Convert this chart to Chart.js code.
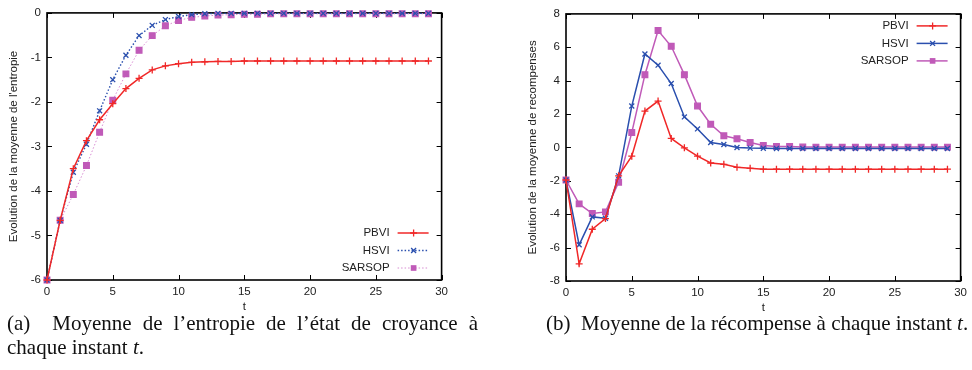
<!DOCTYPE html>
<html>
<head>
<meta charset="utf-8">
<script src="https://cdn.jsdelivr.net/npm/chart.js@4.4.1/dist/chart.umd.min.js"></script>
<style>
  body { margin: 0; width: 972px; height: 370px; background: #fff; position: relative; overflow: hidden; }
  .box { position: absolute; width: 453px; height: 320px; }
  .cap { position: absolute; font-family: "Liberation Serif", "DejaVu Serif", serif; font-size: 21px; line-height: 24px; color: #111; white-space: nowrap; }
  .just { text-align: justify; text-align-last: justify; }
</style>
</head>
<body>
<div class="box" style="left:0; top:0;"><canvas id="entropyChart"></canvas></div>
<div class="box" style="left:519px; top:1px;"><canvas id="rewardChart"></canvas></div>

<div class="cap just" style="left:7px; top:311px; width:471px;">(a)&nbsp; Moyenne de l’entropie de l’état de croyance à</div>
<div class="cap" style="left:7px; top:335px;">chaque instant <i>t</i>.</div>
<div class="cap" style="left:546px; top:311px;">(b)&nbsp; Moyenne de la récompense à chaque instant <i>t</i>.</div>

<script>
// time steps
const steps = [0, 1, 2, 3, 4, 5, 6, 7, 8, 9, 10, 11, 12, 13, 14, 15, 16, 17, 18, 19, 20, 21, 22, 23, 24, 25, 26, 27, 28, 29];
const seriesNames = ['PBVI', 'HSVI', 'SARSOP'];

// (a) mean belief entropy
const entropyPBVI = [-6.00, -4.66, -3.50, -2.87, -2.40, -2.04, -1.70, -1.47, -1.28, -1.19, -1.14, -1.11, -1.10, -1.09, -1.09, -1.08, -1.08, -1.08, -1.08, -1.08, -1.08, -1.08, -1.08, -1.08, -1.08, -1.08, -1.08, -1.08, -1.08, -1.08];
const entropyHSVI = [-6.00, -4.66, -3.58, -2.95, -2.20, -1.50, -0.95, -0.51, -0.28, -0.15, -0.08, -0.04, -0.02, -0.01, -0.01, -0.01, -0.01, -0.01, -0.01, -0.01, -0.01, -0.01, -0.01, -0.01, -0.01, -0.01, -0.01, -0.01, -0.01, -0.01];
const entropySARSOP = [-6.00, -4.66, -4.08, -3.43, -2.68, -1.96, -1.37, -0.84, -0.51, -0.29, -0.17, -0.10, -0.07, -0.05, -0.04, -0.03, -0.03, -0.02, -0.02, -0.02, -0.02, -0.02, -0.02, -0.02, -0.02, -0.02, -0.02, -0.02, -0.02, -0.02];

// (b) mean reward
const rewardPBVI = [-1.95, -6.97, -4.90, -4.26, -1.70, -0.52, 2.18, 2.78, 0.54, -0.02, -0.52, -0.93, -1.01, -1.19, -1.25, -1.30, -1.30, -1.30, -1.30, -1.30, -1.30, -1.30, -1.30, -1.30, -1.30, -1.30, -1.30, -1.30, -1.30, -1.30];
const rewardHSVI = [-1.95, -5.83, -4.16, -4.24, -1.70, 2.48, 5.60, 4.93, 3.83, 1.83, 1.11, 0.30, 0.18, 0.00, -0.04, -0.05, -0.06, -0.06, -0.06, -0.06, -0.06, -0.06, -0.06, -0.06, -0.06, -0.06, -0.06, -0.06, -0.06, -0.06];
const rewardSARSOP = [-1.95, -3.38, -3.96, -3.86, -2.08, 0.89, 4.36, 7.00, 6.06, 4.36, 2.48, 1.39, 0.70, 0.52, 0.30, 0.12, 0.06, 0.06, 0.03, 0.02, 0.02, 0.02, 0.02, 0.02, 0.02, 0.02, 0.02, 0.02, 0.02, 0.02];

const xTicks = [0, 5, 10, 15, 20, 25, 30];
const entropyTicks = [-6, -5, -4, -3, -2, -1, 0];
const rewardTicks = [-8, -6, -4, -2, 0, 2, 4, 6, 8];

const RED = '#f02828';
const BLUE = '#2a4fae';
const PINK = '#c05ab8';
const tickFont = { family: '"Liberation Sans", Arial, sans-serif', size: 11.5 };

function points(values) {
    return steps.map((t, i) => ({ x: t, y: values[i] }));
}

function drawMarker(ctx, style, x, y, r) {
    ctx.beginPath();
    if (style === 'cross') {
        ctx.moveTo(x - r, y); ctx.lineTo(x + r, y);
        ctx.moveTo(x, y - r); ctx.lineTo(x, y + r);
        ctx.stroke();
    } else if (style === 'crossRot') {
        const d = r * Math.SQRT1_2;
        ctx.moveTo(x - d, y - d); ctx.lineTo(x + d, y + d);
        ctx.moveTo(x - d, y + d); ctx.lineTo(x + d, y - d);
        ctx.stroke();
    } else {
        const s = r * Math.SQRT1_2;
        ctx.fillRect(x - s, y - s, 2 * s, 2 * s);
    }
}

// gnuplot-like frame with inward ticks on all four sides
const framePlugin = {
    id: 'frame',
    beforeDatasetsDraw(chart) {
        const { ctx, chartArea: a, scales } = chart;
        ctx.save();
        ctx.strokeStyle = '#000';
        ctx.lineWidth = 1;
        const len = 5;
        scales.x.ticks.forEach(t => {
            const px = Math.round(scales.x.getPixelForValue(t.value)) + 0.5;
            ctx.beginPath();
            ctx.moveTo(px, a.bottom); ctx.lineTo(px, a.bottom - len);
            ctx.moveTo(px, a.top); ctx.lineTo(px, a.top + len);
            ctx.stroke();
        });
        scales.y.ticks.forEach(t => {
            const py = Math.round(scales.y.getPixelForValue(t.value)) + 0.5;
            ctx.beginPath();
            ctx.moveTo(a.left, py); ctx.lineTo(a.left + len, py);
            ctx.moveTo(a.right, py); ctx.lineTo(a.right - len, py);
            ctx.stroke();
        });
        ctx.lineWidth = 1.6;
        ctx.strokeRect(a.left, a.top, a.right - a.left, a.bottom - a.top);
        ctx.restore();
    }
};

// legend drawn inside the plot, text on the left of the sample
const keyPlugin = {
    id: 'key',
    afterDraw(chart, args, opts) {
        const { ctx, chartArea: a } = chart;
        ctx.save();
        ctx.font = '11.5px "Liberation Sans", Arial, sans-serif';
        ctx.textAlign = 'right';
        ctx.textBaseline = 'middle';
        chart.data.datasets.forEach((ds, i) => {
            const y = opts.corner === 'top' ? a.top + 12 + i * 17.5 : a.bottom - 47 + i * 17.5;
            ctx.fillStyle = '#222';
            ctx.fillText(ds.label, a.right - 52, y);
            ctx.strokeStyle = ds.borderColor;
            ctx.lineWidth = ds.borderWidth;
            ctx.setLineDash(ds.borderDash || []);
            ctx.beginPath();
            ctx.moveTo(a.right - 44, y); ctx.lineTo(a.right - 13, y);
            ctx.stroke();
            ctx.setLineDash([]);
            ctx.strokeStyle = ds.pointBorderColor;
            ctx.fillStyle = ds.pointBackgroundColor;
            ctx.lineWidth = ds.pointBorderWidth;
            drawMarker(ctx, ds.pointStyle, a.right - 28, y, ds.pointRadius);
        });
        ctx.restore();
    }
};

function makeSet(label, values, color, style, dash, width, lineColor) {
    return {
        label: label,
        data: points(values),
        borderColor: lineColor || color,
        borderWidth: width,
        borderDash: dash,
        pointStyle: style,
        pointRadius: style === 'rect' ? 4 : 3.5,
        pointBorderColor: color,
        pointBackgroundColor: color,
        pointBorderWidth: 1.3,
        tension: 0,
        clip: false
    };
}

function makeChart(id, yTitle, datasets, yTicks, corner) {
    const ctx = document.getElementById(id).getContext('2d');
    return new Chart(ctx, {
        type: 'line',
        data: { datasets: datasets },
        plugins: [framePlugin, keyPlugin],
        options: {
            responsive: true,
            maintainAspectRatio: false,
            animation: false,
            layout: { padding: { top: 8, right: 10, left: 0, bottom: 0 } },
            plugins: {
                legend: { display: false },
                tooltip: { enabled: false },
                key: { corner: corner }
            },
            scales: {
                x: {
                    type: 'linear',
                    min: xTicks[0],
                    max: xTicks[xTicks.length - 1],
                    afterBuildTicks: s => { s.ticks = xTicks.map(v => ({ value: v })); },
                    ticks: { padding: 5, color: '#222', font: tickFont, maxRotation: 0 },
                    grid: { display: false, drawTicks: false },
                    border: { display: false },
                    title: { display: true, text: 't', color: '#222', font: tickFont, padding: { top: 0, bottom: 6 } },
                    afterFit: s => { s.height = 40; }
                },
                y: {
                    min: yTicks[0],
                    max: yTicks[yTicks.length - 1],
                    afterBuildTicks: s => { s.ticks = yTicks.map(v => ({ value: v })); },
                    ticks: { padding: 6, color: '#222', font: tickFont },
                    grid: { display: false, drawTicks: false },
                    border: { display: false },
                    title: { display: true, text: yTitle, color: '#222', font: tickFont, padding: { top: 7, bottom: 0 } },
                    afterFit: s => { s.width = 47; }
                }
            }
        }
    });
}

makeChart('entropyChart', 'Evolution de la moyenne de l\'entropie', [
    makeSet(seriesNames[0], entropyPBVI, RED, 'cross', [], 1.5),
    makeSet(seriesNames[1], entropyHSVI, BLUE, 'crossRot', [1.5, 2], 1.4),
    makeSet(seriesNames[2], entropySARSOP, PINK, 'rect', [1.5, 2], 1, '#d88cd2')
], entropyTicks, 'bottom');

makeChart('rewardChart', 'Evolution de la moyenne de recompenses', [
    makeSet(seriesNames[0], rewardPBVI, RED, 'cross', [], 1.5),
    makeSet(seriesNames[1], rewardHSVI, BLUE, 'crossRot', [], 1.5),
    makeSet(seriesNames[2], rewardSARSOP, PINK, 'rect', [], 1.5)
], rewardTicks, 'top');
</script>
</body>
</html>
